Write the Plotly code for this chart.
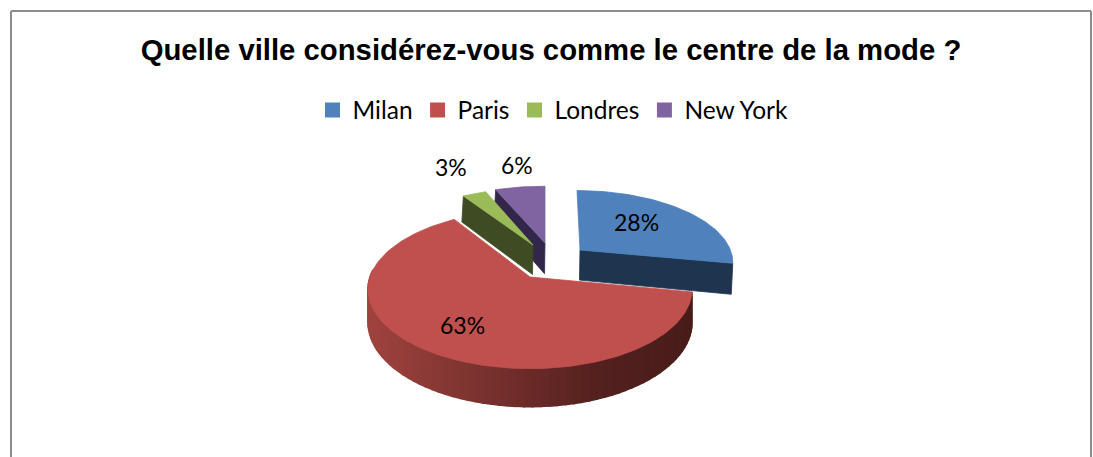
import numpy as np
import plotly.graph_objects as go

# --- data -------------------------------------------------------------
title = "Quelle ville considérez-vous comme le centre de la mode ?"
categories = ["Milan", "Paris", "Londres", "New York"]
values = [28, 63, 3, 6]

colors = ["#4F81BD", "#C0504D", "#9BBB59", "#8064A2"]
wall_colors = ["#1F344F", None, "#3F4B22", "#32274A"]

# --- 3D projection of the exploded pie (pixel space) --------------------
W, H = 1093, 457
R, TILT, PERSP, DEPTH = 160, 0.483, 0.157, 32
apex = {"Milan": (580, 250), "Paris": (530, 277), "Londres": (533, 245), "New York": (545, 243)}
scale_x = {"Milan": 0.94, "Paris": 1.0, "Londres": 0.92, "New York": 0.96}
scale_y = {"Milan": 0.89, "Paris": 1.0, "Londres": 0.85, "New York": 0.85}
skew = {"Milan": -3, "Paris": 0, "Londres": 0, "New York": 0}
label_pos = {"Milan": (636, 222), "Paris": (462, 325), "Londres": (451, 167), "New York": (517, 165)}


def project(name, theta, r=1.0):
    X, Y = r * np.sin(theta), r * np.cos(theta)
    s = 1 / (1 + PERSP * Y)
    ax, ay = apex[name]
    return (ax + R * X * s * scale_x[name] + skew[name] * Y,
            ay - R * TILT * Y * s * scale_y[name],
            DEPTH * s * scale_x[name])


cum = np.cumsum([0] + values) / sum(values) * 2 * np.pi
spans = {c: (cum[i], cum[i + 1]) for i, c in enumerate(categories)}


def top_poly(name):
    a, b = spans[name]
    t = np.linspace(a, b, max(6, int((b - a) * 40)))
    x, y, _ = project(name, t)
    ax, ay = apex[name]
    return [ax, *x, ax], [ay, *y, ay]


def add_poly(fig, x, y, color, name=None, lw=0.8):
    fig.add_trace(go.Scatter(x=x, y=y, mode="lines", fill="toself", fillcolor=color,
                             line=dict(color=color, width=lw), hoverinfo="skip",
                             showlegend=False, name=name))


def cut_wall(fig, name, theta, color):
    x, y, d = project(name, np.array([theta]))
    ax, ay = apex[name]
    d0 = DEPTH * scale_x[name]
    add_poly(fig, [ax, x[0], x[0] - 1.5, ax - 0.5, ax], [ay, y[0], y[0] + d[0], ay + d0, ay], color)


def lerp_color(stops, f):
    pos = np.array([p for p, _ in stops])
    cols = np.array([c for _, c in stops], dtype=float)
    rgb = [np.interp(f, pos, cols[:, i]) for i in range(3)]
    return "rgb({:.0f},{:.0f},{:.0f})".format(*rgb)


fig = go.Figure()

# New York and Londres (furthest back)
for i in (3, 2):
    c = categories[i]
    cut_wall(fig, c, spans[c][0], wall_colors[i])
    x, y = top_poly(c)
    add_poly(fig, x, y, colors[i], c)

# Paris outer wall with a left-to-right shading
wall_stops = [(0.0, (160, 67, 63)), (0.35, (122, 50, 47)), (0.7, (84, 33, 31)), (1.0, (72, 28, 26))]
a, b = spans["Paris"]
edges = np.linspace(a, min(b, 1.53 * np.pi), 70)
for t0, t1 in zip(edges[:-1], edges[1:]):
    x, y, d = project("Paris", np.array([t0, t1]))
    f = (692 - 0.5 * (x[0] + x[1])) / (692 - 367)
    col = lerp_color(wall_stops, 1 - f)
    add_poly(fig, [x[0], x[1], x[1], x[0], x[0]],
             [y[0], y[1], y[1] + d[1], y[0] + d[0], y[0]], col, lw=1.6)

x, y = top_poly("Paris")
add_poly(fig, x, y, colors[1], "Paris")

# Milan (front cut face, then top)
cut_wall(fig, "Milan", spans["Milan"][1], wall_colors[0])
x, y = top_poly("Milan")
add_poly(fig, x, y, colors[0], "Milan")

# Legend entries
for c, col in zip(categories, colors):
    fig.add_trace(go.Scatter(x=[None], y=[None], mode="markers", name=c,
                             marker=dict(symbol="square", size=15, color=col)))

# Percent labels
for c, v in zip(categories, values):
    lx, ly = label_pos[c]
    fig.add_annotation(x=lx, y=ly, text=f"{v}%", showarrow=False,
                       font=dict(family="Lato, Carlito, sans-serif", size=23, color="#000"))

# Chart frame (cut off at the bottom in the reference)
frame = dict(color="#8C8C8C", width=2)
fig.add_shape(type="line", x0=11, x1=11, y0=11, y1=H, line=frame)
fig.add_shape(type="line", x0=11, x1=1091, y0=11, y1=11, line=frame)
fig.add_shape(type="line", x0=1091, x1=1091, y0=11, y1=H, line=frame)

fig.update_layout(
    width=W, height=H,
    margin=dict(l=0, r=0, t=0, b=0),
    paper_bgcolor="white", plot_bgcolor="white",
    xaxis=dict(range=[0, W], visible=False, fixedrange=True),
    yaxis=dict(range=[H, 0], visible=False, fixedrange=True),
    title=dict(text=f"<b>{title}</b>", x=551 / W, xanchor="center", y=1 - 49.5 / H, yanchor="middle",
               font=dict(family="Liberation Sans, Arial, sans-serif", size=29.3, color="#000")),
    legend=dict(orientation="h", x=553 / W, xanchor="center", y=1 - 110 / H, yanchor="middle",
                font=dict(family="Lato, Carlito, sans-serif", size=24.5, color="#000"),
                bgcolor="rgba(0,0,0,0)"),
    hovermode=False,
)
fig.write_html("out.html", config={"displayModeBar": False},
               post_script="document.body.style.margin='0';document.documentElement.style.overflow='hidden';")
